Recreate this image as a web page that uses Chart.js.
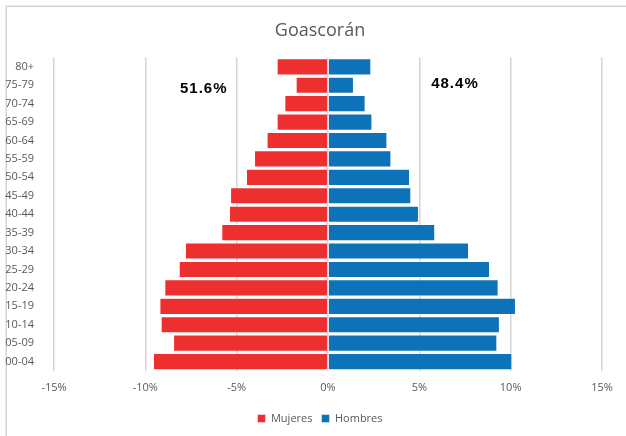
<!DOCTYPE html>
<html>
<head>
<meta charset="utf-8">
<script src="https://cdn.jsdelivr.net/npm/chart.js@4.4.1/dist/chart.umd.min.js"></script>
<style>
  body { margin: 0; background: #fff; overflow: hidden; }
  #wrap { width: 626px; height: 436px; position: relative; overflow: hidden; }
</style>
</head>
<body>
<div id="wrap"><canvas id="pyramid" width="640" height="436"></canvas></div>
<script>
// age groups, top to bottom
var ageGroups = ['80+','75-79','70-74','65-69','60-64','55-59','50-54','45-49','40-44','35-39','30-34','25-29','20-24','15-19','10-14','05-09','00-04'];
// percent of each sex
var mujeres = [2.81,1.77,2.39,2.81,3.36,4.05,4.49,5.36,5.42,5.84,7.83,8.17,8.96,9.23,9.16,8.48,9.58];
var hombres = [2.37,1.42,2.06,2.43,3.25,3.47,4.49,4.56,4.98,5.87,7.72,8.87,9.34,10.29,9.41,9.27,10.09];
var xTicks = [-15,-10,-5,0,5,10,15];
// share labels drawn inside the plot
var shareText = ['51.6%','48.4%'];
var shareX = [-6.8, 6.95];

var textColor = '#595959';
var mujeresNeg = mujeres.map(v => -v);

// frame + share labels
var extras = {
  id: 'extras',
  beforeDraw: function(chart){
    var c = chart.ctx;
    c.save();
    c.fillStyle = '#fff';
    c.fillRect(0,0,chart.width,chart.height);
    c.strokeStyle = '#d4d4d4';
    c.lineWidth = 1.5;
    c.strokeRect(6.25,6.25,700,700);
    c.restore();
  },
  afterDatasetsDraw: function(chart){
    var c = chart.ctx;
    var x = chart.scales.x, y = chart.scales.y;
    var yPos = [y.getPixelForValue(1)+4, y.getPixelForValue(1)-1.5];
    c.save();
    c.font = 'bold 15px "Liberation Sans"';
    c.letterSpacing = '1px';
    c.fillStyle = '#000';
    c.textAlign = 'center';
    c.textBaseline = 'middle';
    shareText.forEach(function(t,i){
      c.fillText(t, x.getPixelForValue(shareX[i]), yPos[i]);
    });
    c.restore();
  }
};

var ctx = document.getElementById('pyramid');
new Chart(ctx, {
  type: 'bar',
  data: {
    labels: ageGroups,
    datasets: [{
      label: 'Mujeres',
      data: mujeresNeg,
      backgroundColor: '#EE2F2F',
      borderColor: 'rgba(255,255,255,0.45)',
      borderWidth: 1,
      barPercentage: 0.93,
      categoryPercentage: 1
    },{
      label: 'Hombres',
      data: hombres,
      backgroundColor: '#0E72B8',
      borderColor: 'rgba(255,255,255,0.45)',
      borderWidth: 1,
      barPercentage: 0.93,
      categoryPercentage: 1
    }]
  },
  options: {
    indexAxis: 'y',
    responsive: false,
    animation: false,
    layout: { padding: { left: 0, right: 0, top: 0, bottom: 2 } },
    scales: {
      x: {
        stacked: true,
        min: -15, max: 15,
        afterBuildTicks: function(s){ s.ticks = xTicks.map(v => ({value: v})); },
        afterFit: function(s){ s.paddingRight = 38; },
        grid: { color: '#d4d4d4', lineWidth: 1.5, drawTicks: false },
        border: { display: false },
        ticks: {
          padding: 10,
          color: textColor,
          font: { family: '"Open Sans"', size: 11 },
          callback: function(v){ return v + '%'; }
        }
      },
      y: {
        stacked: true,
        afterFit: function(s){ s.width = 54; },
        grid: { display: false },
        border: { display: false },
        ticks: {
          padding: 12,
          color: textColor,
          font: { family: '"Open Sans"', size: 11 }
        }
      }
    },
    plugins: {
      title: {
        display: true,
        text: 'Goascorán',
        color: textColor,
        font: { family: '"Open Sans"', size: 18, weight: 'normal' },
        padding: { top: 20, bottom: 16 }
      },
      legend: {
        position: 'bottom',
        labels: {
          boxWidth: 8, boxHeight: 8,
          padding: 9,
          color: textColor,
          font: { family: '"Open Sans"', size: 11 }
        }
      },
      tooltip: { enabled: false }
    }
  },
  plugins: [extras]
});
</script>
</body>
</html>
